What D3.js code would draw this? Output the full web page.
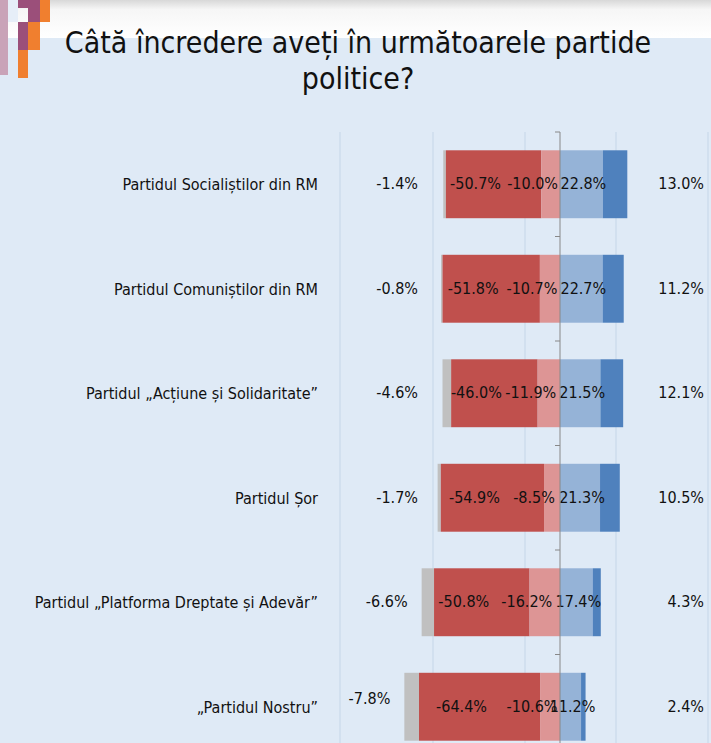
<!DOCTYPE html>
<html><head><meta charset="utf-8">
<script src="https://cdn.jsdelivr.net/npm/d3@7"></script>
<style>body{margin:0;background:#dfeaf6}text{font-family:"Liberation Sans Narrow","DejaVu Sans Condensed",sans-serif}</style>
</head><body><svg id="c" width="711" height="743"></svg>
<script>
const parties = ["Partidul Socialiștilor din RM", "Partidul Comuniștilor din RM", "Partidul „Acțiune și Solidaritate”", "Partidul Șor", "Partidul „Platforma Dreptate și Adevăr”", "„Partidul Nostru”"];
const noAnswer = [1.4, 0.8, 4.6, 1.7, 6.6, 7.8];
const noTrust = [50.7, 51.8, 46.0, 54.9, 50.8, 64.4];
const littleTrust = [10.0, 10.7, 11.9, 8.5, 16.2, 10.6];
const someTrust = [22.8, 22.7, 21.5, 21.3, 17.4, 11.2];
const muchTrust = [13.0, 11.2, 12.1, 10.5, 4.3, 2.4];

const svg = d3.select("#c");
// top band + decor
const g0 = svg.append("defs").append("linearGradient").attr("id","tb").attr("x1",0).attr("x2",0).attr("y1",0).attr("y2",1);
g0.append("stop").attr("offset",0).attr("stop-color","#d8d8d8");
g0.append("stop").attr("offset",0.25).attr("stop-color","#f6f6f6");
g0.append("stop").attr("offset",1).attr("stop-color","#ffffff");
svg.append("rect").attr("width",711).attr("height",38).attr("fill","url(#tb)");
[[0,0,8,75,"#c9a3b8"],[8,0,10,22,"#e6eef8"],[18,0,10,8,"#9b4f7a"],[18,22,10,28,"#9b4f7a"],[18,50,10,28,"#f07f2f"],[28,22,12,28,"#f07f2f"],[40,0,10,22,"#f07f2f"],[28,0,12,22,"#9b4f7a"]].forEach(([x,y,w,h,c])=>
  svg.append("rect").attr("x",x).attr("y",y).attr("width",w).attr("height",h).attr("fill",c));

svg.append("text").attr("x",358).attr("y",53).attr("text-anchor","middle").attr("font-size",30).attr("fill","#111").text("Câtă încredere aveți în următoarele partide");
svg.append("text").attr("x",358).attr("y",89).attr("text-anchor","middle").attr("font-size",30).attr("fill","#111").text("politice?");

const x = d3.scaleLinear().domain([-100, 100]).range([560 - 188, 560 + 188]);
const y = d3.scaleBand().domain(parties).range([132, 759]).paddingInner(0.35).paddingOuter(0.175);

// gridlines
[340, 433, 525, 616, 708].forEach(gx => svg.append("line").attr("x1",gx).attr("x2",gx).attr("y1",132).attr("y2",743).attr("stroke","#c5d6e8").attr("stroke-width",1));

const cols = {gray:"#c0c0c0", red:"#c0504d", pink:"#dd9595", lblue:"#95b3d7", blue:"#4f81bd"};
parties.forEach((p, i) => {
  const yy = y(p), h = y.bandwidth(), cy = yy + h / 2;
  const a = -littleTrust[i], b = a - noTrust[i], c = b - noAnswer[i];
  const d = someTrust[i], e = d + muchTrust[i];
  const segs = [[c,b,cols.gray],[b,a,cols.red],[a,0,cols.pink],[0,d,cols.lblue],[d,e,cols.blue]];
  segs.forEach(([s,t,col]) => svg.append("rect").attr("x",x(s)).attr("width",x(t)-x(s)).attr("y",yy).attr("height",h).attr("fill",col));
  const lab = (tx, v, anchor, dy=0) => svg.append("text").attr("x",tx).attr("y",cy+5+dy).attr("text-anchor",anchor).attr("font-size",16).attr("fill","#111").text(v.toFixed(1)+"%");
  lab(Math.min(418, x(c) - 14), -noAnswer[i], "end", i===5?-8:0);
  lab((x(b)+x(a))/2 - 18, -noTrust[i], "middle");
  lab((x(a)+x(0))/2 - 18, -littleTrust[i], "middle");
  lab((x(0)+x(d))/2 + 2, someTrust[i], "middle");
  lab(704, muchTrust[i], "end");
  svg.append("text").attr("x",318).attr("y",cy+6).attr("text-anchor","end").attr("font-size",16).attr("fill","#111").text(p);
});

// center axis
svg.append("line").attr("x1",x(0)).attr("x2",x(0)).attr("y1",132).attr("y2",743).attr("stroke","#888");
svg.append("line").attr("x1",x(0)-5).attr("x2",x(0)).attr("y1",132).attr("y2",132).attr("stroke","#888");
parties.slice(1).forEach(p => {
  const ty = y(p) - y.step()*y.paddingInner()/2;
  svg.append("line").attr("x1",x(0)-5).attr("x2",x(0)).attr("y1",ty).attr("y2",ty).attr("stroke","#888");
});
</script></body></html>
